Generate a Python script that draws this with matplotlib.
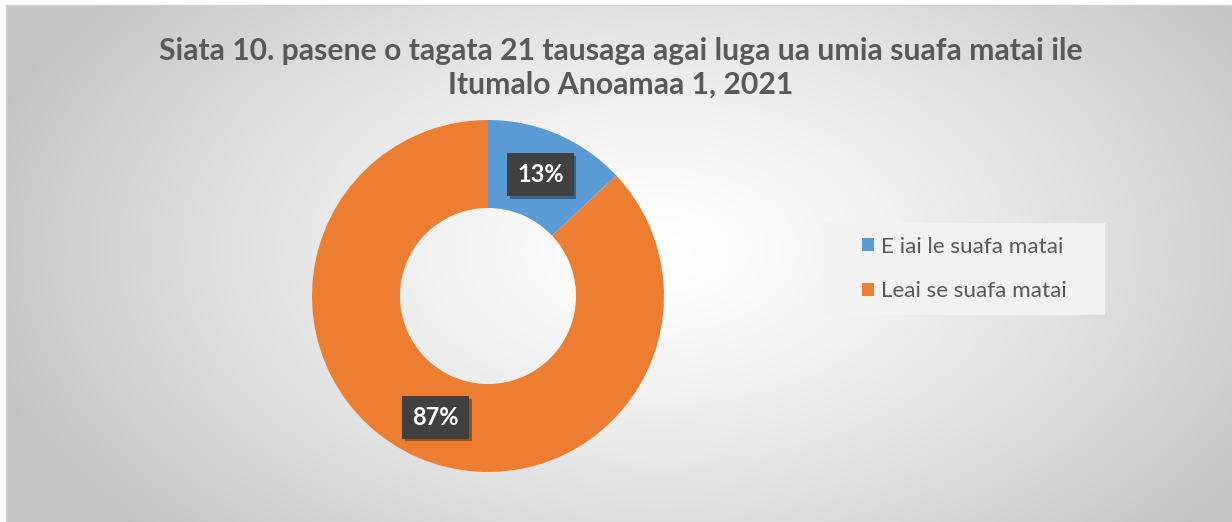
import numpy as np
import matplotlib
matplotlib.use("Agg")
import matplotlib.pyplot as plt
from matplotlib import patheffects
from matplotlib.patches import Rectangle

W, H = 1232, 522

title = "Siata 10. pasene o tagata 21 tausaga agai luga ua umia suafa matai ile\nItumalo Anoamaa 1, 2021"
categories = ["E iai le suafa matai", "Leai se suafa matai"]
shares = [13, 87]
colors = ["#5B9BD5", "#ED7D31"]

plt.rcParams["font.family"] = ["Lato", "DejaVu Sans"]

fig = plt.figure(figsize=(W / 100, H / 100), dpi=100)
fig.patch.set_facecolor("white")

# radial gradient background of the chart area
bg = fig.add_axes([0, 0, 1, 1])
bg.set_xlim(0, W)
bg.set_ylim(H, 0)
bg.axis("off")
x0, y0 = 6, 5
yy, xx = np.mgrid[y0:H, x0:W]
cx, cy = 660, 250
d = np.sqrt(((xx - cx) / 700.0) ** 2 + ((yy - cy) / 420.0) ** 2)
d = np.clip(d, 0, 1)
g = 1.0 - 0.23 * d ** 1.3
img = np.dstack([g, g, g])
bg.imshow(img, extent=(x0, W, H, y0), aspect="auto", interpolation="bilinear")
bg.plot([x0, x0], [y0, H], color="#d0d0d0", lw=1)
bg.plot([x0, W], [y0, y0], color="#d0d0d0", lw=1)

# legend panel
bg.add_patch(Rectangle((824, 223), 281, 92, facecolor="#f2f2f2", edgecolor="none"))

# donut
R = 176
cxp, cyp = 488, 296
ax = fig.add_axes([(cxp - R) / W, (H - cyp - R) / H, 2 * R / W, 2 * R / H])
wedges, _ = ax.pie(shares, colors=colors, startangle=90, counterclock=False,
                   radius=1.0, wedgeprops=dict(width=0.5, edgecolor="none"))
ax.set_xlim(-1, 1)
ax.set_ylim(-1, 1)
ax.axis("off")

start = 90.0
for v, w in zip(shares, wedges):
    mid = np.deg2rad(start - v / sum(shares) * 360 / 2)
    start -= v / sum(shares) * 360
    t = ax.text(0.75 * np.cos(mid), 0.75 * np.sin(mid), f"{v}%", ha="center", va="center",
                color="white", fontsize=17, fontweight="bold",
                bbox=dict(boxstyle="square,pad=0.42", facecolor="#404040", edgecolor="none"))
    t.get_bbox_patch().set_path_effects([
        patheffects.withSimplePatchShadow(offset=(2, -2), shadow_rgbFace="#000000", alpha=0.35),
        patheffects.Normal()])

fig.text(621 / W, 1 - 68 / H, title, ha="center", va="center", fontsize=21.7,
         fontweight="bold", color="#595959", linespacing=1.25)

leg = fig.legend(wedges, categories, loc="center left", bbox_to_anchor=(862 / W, 1 - 269 / H),
                 frameon=False, fontsize=16.2, handlelength=0.55,
                 handleheight=0.55, handletextpad=0.3, labelspacing=1.1, borderpad=0,
                 borderaxespad=0)
for t in leg.get_texts():
    t.set_color("#595959")

fig.savefig("out.png", dpi=100)
